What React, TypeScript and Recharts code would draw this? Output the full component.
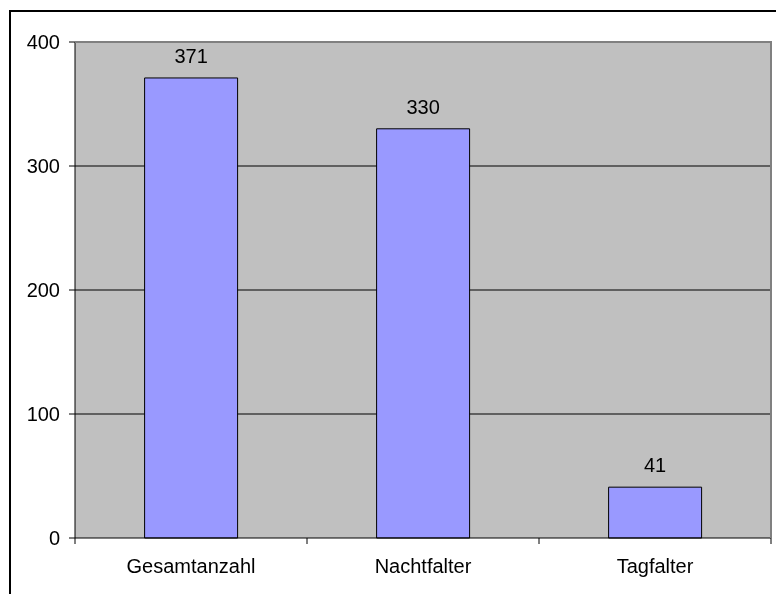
import { BarChart, Bar, XAxis, YAxis, CartesianGrid, LabelList } from "recharts";

const categories = ["Gesamtanzahl", "Nachtfalter", "Tagfalter"];
const counts = [371, 330, 41];
const yTicks = [0, 100, 200, 300, 400];

const data = categories.map((name, i) => ({ name, value: counts[i] }));

const font = { fontFamily: "'Liberation Sans', Arial, sans-serif", fontSize: 20, fill: "#000" };

const TICK_SIZE = 6;
const TICK_MARGIN = 15;

// category label plus the small tick marks at the category borders
const CategoryTick = (props: any) => {
  const { x, y, payload } = props;
  const half = payload.offset || 0;
  const axisY = y - TICK_SIZE - TICK_MARGIN;
  const last = payload.value === categories[categories.length - 1];
  return (
    <g>
      <line x1={x - half} x2={x - half} y1={axisY} y2={axisY + TICK_SIZE} stroke="#000" />
      {last && <line x1={x + half} x2={x + half} y1={axisY} y2={axisY + TICK_SIZE} stroke="#000" />}
      <text x={x} y={y} dy="0.71em" textAnchor="middle" style={font}>
        {payload.value}
      </text>
    </g>
  );
};

export default function App() {
  return (
    <div style={{ position: "fixed", left: 8, top: 8, width: 768, height: 586 }}>
      {/* outer frame, runs off the page on the right and bottom */}
      <div
        style={{
          position: "absolute",
          left: 1,
          top: 2,
          width: 820,
          height: 640,
          border: "2px solid #000",
          boxSizing: "border-box",
          pointerEvents: "none",
        }}
      />
      <BarChart
        width={768}
        height={586}
        data={data}
        margin={{ top: 34, right: 5, left: 0, bottom: 0 }}
        barCategoryGap="30%"
      >
        <CartesianGrid
          fill="#C0C0C0"
          vertical={false}
          stroke="#000"
          horizontalValues={[100, 200, 300]}
        />
        <XAxis
          dataKey="name"
          height={56}
          axisLine={{ stroke: "#000" }}
          tickLine={false}
          tickSize={TICK_SIZE}
          tickMargin={TICK_MARGIN}
          tick={<CategoryTick />}
        />
        <YAxis
          domain={[0, 400]}
          ticks={yTicks}
          width={67}
          axisLine={{ stroke: "#000" }}
          tickLine={{ stroke: "#000" }}
          tickSize={6}
          tickMargin={9}
          tick={font}
        />
        <Bar
          dataKey="value"
          fill="#9999FF"
          stroke="#000"
          strokeWidth={1}
          isAnimationActive={false}
        >
          <LabelList dataKey="value" position="top" offset={15} style={font} />
        </Bar>
      </BarChart>
      {/* gray plot frame on top and right */}
      <div
        style={{
          position: "absolute",
          left: 67,
          top: 33,
          width: 697,
          height: 497,
          borderTop: "2px solid #808080",
          borderRight: "2px solid #808080",
          boxSizing: "border-box",
          pointerEvents: "none",
        }}
      />
    </div>
  );
}
